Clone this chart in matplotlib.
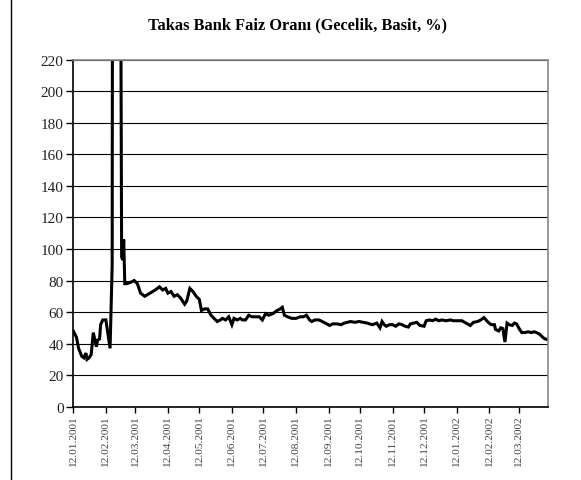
import numpy as np
import pandas as pd
import matplotlib
matplotlib.use("Agg")
from matplotlib import pyplot as plt
import matplotlib.dates as mdates
from matplotlib.lines import Line2D

# Takas Bank overnight rate (simple, %)
dates = [
    "2001-01-12", "2001-01-15", "2001-01-17", "2001-01-20", "2001-01-22", "2001-01-24",
    "2001-01-25", "2001-01-27", "2001-01-29", "2001-01-31", "2001-02-01", "2001-02-03",
    "2001-02-04", "2001-02-06", "2001-02-07", "2001-02-09", "2001-02-12", "2001-02-14",
    "2001-02-16", "2001-02-18", "2001-02-19", "2001-02-20", "2001-02-21", "2001-02-22",
    "2001-02-23", "2001-02-26", "2001-02-27", "2001-02-28", "2001-03-01", "2001-03-02",
    "2001-03-04", "2001-03-08", "2001-03-11", "2001-03-14", "2001-03-17", "2001-03-21",
    "2001-03-26", "2001-03-31", "2001-04-04", "2001-04-07", "2001-04-10", "2001-04-12",
    "2001-04-15", "2001-04-18", "2001-04-21", "2001-04-24", "2001-04-26", "2001-04-28",
    "2001-04-30", "2001-05-03", "2001-05-06", "2001-05-09", "2001-05-12", "2001-05-14",
    "2001-05-17", "2001-05-20", "2001-05-23", "2001-05-26", "2001-05-29", "2001-06-01",
    "2001-06-03", "2001-06-06", "2001-06-09", "2001-06-12", "2001-06-14", "2001-06-17",
    "2001-06-20", "2001-06-22", "2001-06-25", "2001-06-28", "2001-07-01", "2001-07-05",
    "2001-07-08", "2001-07-11", "2001-07-14", "2001-07-17", "2001-07-21", "2001-07-25",
    "2001-07-28", "2001-07-30", "2001-08-01", "2001-08-04", "2001-08-08", "2001-08-12",
    "2001-08-16", "2001-08-19", "2001-08-22", "2001-08-25", "2001-08-27", "2001-08-30",
    "2001-09-03", "2001-09-06", "2001-09-09", "2001-09-13", "2001-09-16", "2001-09-20",
    "2001-09-24", "2001-09-27", "2001-09-30", "2001-10-03", "2001-10-07", "2001-10-11",
    "2001-10-15", "2001-10-19", "2001-10-21", "2001-10-24", "2001-10-28", "2001-10-31",
    "2001-11-02", "2001-11-04", "2001-11-06", "2001-11-09", "2001-11-12", "2001-11-15",
    "2001-11-18", "2001-11-21", "2001-11-24", "2001-11-27", "2001-11-29", "2001-12-02",
    "2001-12-05", "2001-12-08", "2001-12-12", "2001-12-14", "2001-12-17", "2001-12-20",
    "2001-12-23", "2001-12-26", "2001-12-29", "2002-01-02", "2002-01-06", "2002-01-09",
    "2002-01-13", "2002-01-17", "2002-01-21", "2002-01-25", "2002-01-28", "2002-02-01",
    "2002-02-04", "2002-02-07", "2002-02-09", "2002-02-11", "2002-02-14", "2002-02-17",
    "2002-02-18", "2002-02-21", "2002-02-23", "2002-02-25", "2002-02-27", "2002-03-01",
    "2002-03-03", "2002-03-06", "2002-03-08", "2002-03-10", "2002-03-13", "2002-03-15",
    "2002-03-18", "2002-03-21", "2002-03-24", "2002-03-27", "2002-03-29", "2002-04-01",
    "2002-04-04", "2002-04-06", "2002-04-09",
]
rates = [
    48, 44, 37, 32, 31, 34,
    30, 31, 33, 47, 44, 38,
    42, 43, 52, 55, 55, 46,
    37, 90, 760, 2000, 4000, 1500,
    800, 300, 95, 93, 106, 78,
    78, 79, 80, 78, 72, 70,
    72, 74, 76, 74, 75, 72,
    73, 70, 71, 69, 67, 65,
    67, 75, 73, 70, 68, 61,
    62, 62, 58, 56, 54, 55,
    56, 55, 57, 52, 56, 55,
    56, 55, 55, 58, 57, 57,
    57, 55, 59, 58, 59, 61,
    62, 63, 58, 57, 56, 56,
    57, 57, 58, 55, 54, 55,
    55, 54, 53, 51.5, 52.5, 52.5,
    52, 53, 53.5, 54, 53.5, 54,
    53.5, 53, 52.5, 52, 53, 50,
    54, 52, 51, 52, 52, 51,
    52.5, 52, 51, 50.5, 52.5, 53,
    53.5, 51.5, 51, 54.5, 55, 54.5,
    55.5, 54.5, 55, 54.5, 55, 54.5,
    54.5, 54.5, 53, 51.5, 53.5, 54,
    55, 56.5, 55, 53.5, 52, 52,
    49, 48, 50, 49.5, 41, 53,
    52, 51.5, 53, 52.5, 49, 47,
    47, 47.5, 47, 47.5, 47, 46,
    44, 43, 42.5,
]
tick_dates = pd.date_range("2001-01-01", "2002-03-12", freq="MS") + pd.Timedelta(days=11)
y_ticks = [0, 20, 40, 60, 80, 100, 120, 140, 160, 180, 200, 220]
title = "Takas Bank Faiz Oranı (Gecelik, Basit, %)"

serif = ["Liberation Serif", "DejaVu Serif"]
plt.rcParams["font.family"] = serif

fig = plt.figure(figsize=(5.81, 4.81), dpi=100)
ax = fig.add_axes([0.1262, 0.1524, 0.817, 0.7214])

x = pd.to_datetime(dates)
ax.plot(x, rates, color="black", lw=2.2, solid_joinstyle="miter", clip_on=True)

ax.set_ylim(0, 220)
ax.set_xlim(pd.Timestamp("2001-01-12"), pd.Timestamp("2002-04-09"))
ax.set_yticks(y_ticks)
ax.set_xticks(tick_dates)
ax.xaxis.set_major_formatter(mdates.DateFormatter("%d.%m.%Y"))
ax.yaxis.grid(True, color="black", lw=0.8)
ax.set_axisbelow(True)

for lab in ax.get_xticklabels():
    lab.set_rotation(90)
    lab.set_fontsize(8.2)
    lab.set_color("#444444")
for lab in ax.get_yticklabels():
    lab.set_fontsize(11)
    lab.set_color("#222222")

ax.tick_params(axis="x", direction="out", length=4, width=1, pad=2)
ax.tick_params(axis="y", direction="out", length=5, width=1, pad=2)
ax.spines["left"].set_color("black")
ax.spines["bottom"].set_color("black")
ax.spines["left"].set_linewidth(1.2)
ax.spines["bottom"].set_linewidth(1.2)
ax.spines["top"].set_color("#888888")
ax.spines["right"].set_color("#888888")
ax.spines["top"].set_linewidth(1.2)
ax.spines["right"].set_linewidth(1.2)

fig.text(297 / 581, 1 - 25 / 481, title, ha="center", va="center",
         fontsize=11.8, fontweight="bold", family=serif)

# vertical frame line on the left edge of the page
fig.add_artist(Line2D([11 / 581, 11 / 581], [0, 1], color="black", lw=1.0))

fig.savefig("out.png", dpi=100)
